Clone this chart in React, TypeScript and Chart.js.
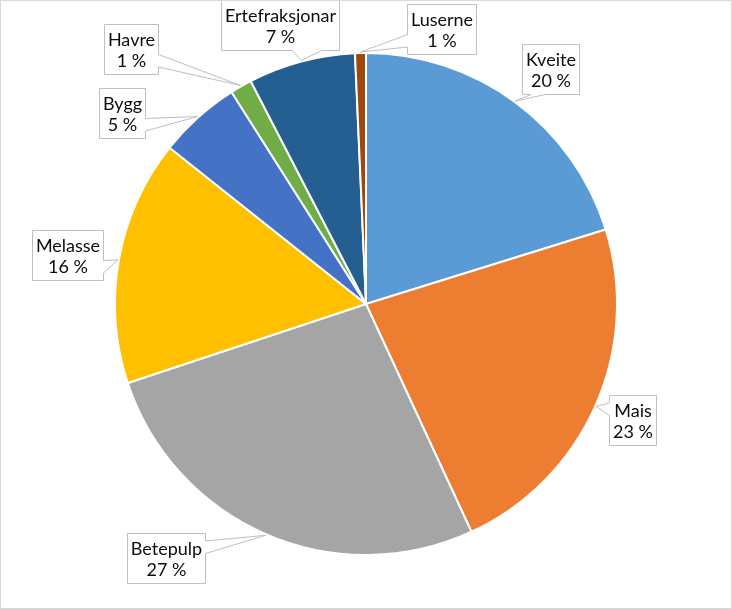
import React, { useEffect, useRef } from "react";
import { Chart, registerables } from "chart.js";

Chart.register(...registerables);

const categories = ["Kveite", "Mais", "Betepulp", "Melasse", "Bygg", "Havre", "Ertefraksjonar", "Luserne"];
const shares = [20.2, 22.9, 26.8, 15.8, 5.3, 1.4, 6.9, 0.7];
const colors = ["#5B9BD5", "#ED7D31", "#A5A5A5", "#FFC000", "#4472C4", "#70AD47", "#255E91", "#9E480E"];

// callout box placement (center x, top y) in canvas pixels
const calloutPos: [number, number][] = [
  [550, 44],
  [632, 395],
  [166, 533],
  [68, 230],
  [122, 88],
  [131, 24],
  [280, 0],
  [442, 4],
];

const FONT = "18px Lato, 'Liberation Sans', sans-serif";

const calloutPlugin = {
  id: "callouts",
  beforeDraw(chart: any) {
    const ctx = chart.ctx;
    ctx.save();
    ctx.fillStyle = "#ffffff";
    ctx.fillRect(0, 0, chart.width, chart.height);
    ctx.restore();
  },
  afterDraw(chart: any) {
    const ctx = chart.ctx;
    const meta = chart.getDatasetMeta(0);
    const values = chart.data.datasets[0].data as number[];
    const labels = chart.data.labels as string[];
    ctx.save();
    ctx.font = FONT;
    meta.data.forEach((arc: any, i: number) => {
      const mid = (arc.startAngle + arc.endAngle) / 2;
      const r = arc.outerRadius + 1;
      const tx = arc.x + Math.cos(mid) * r;
      const ty = arc.y + Math.sin(mid) * r;
      const l1 = labels[i];
      const l2 = `${Math.round(values[i])} %`;
      const w = Math.max(ctx.measureText(l1).width, ctx.measureText(l2).width) + 7;
      const h = 50;
      const [cx, top] = calloutPos[i];
      const x0 = Math.round(cx - w / 2) + 0.5;
      const y0 = top + 0.5;
      const x1 = x0 + Math.round(w);
      const y1 = y0 + h;
      const dxOut = tx < x0 ? x0 - tx : tx > x1 ? tx - x1 : 0;
      const dyOut = ty < y0 ? y0 - ty : ty > y1 ? ty - y1 : 0;
      let side: string;
      if (dyOut >= dxOut * 0.7 && dyOut > 0) side = ty > y1 ? "bottom" : "top";
      else side = tx < x0 ? "left" : "right";
      const pts: [number, number][] = [];
      const ww = x1 - x0;
      const hh = y1 - y0;
      const cyBox = (y0 + y1) / 2;
      const cxBox = (x0 + x1) / 2;
      pts.push([x0, y0]);
      if (side === "top") {
        const f = tx < cxBox ? [0.15, 0.4] : [0.6, 0.85];
        pts.push([x0 + ww * f[0], y0], [tx, ty], [x0 + ww * f[1], y0]);
      }
      pts.push([x1, y0]);
      if (side === "right") {
        const f = ty < cyBox ? [0.15, 0.4] : [0.6, 0.85];
        pts.push([x1, y0 + hh * f[0]], [tx, ty], [x1, y0 + hh * f[1]]);
      }
      pts.push([x1, y1]);
      if (side === "bottom") {
        const f = tx < cxBox ? [0.4, 0.15] : [0.85, 0.6];
        pts.push([x0 + ww * f[0], y1], [tx, ty], [x0 + ww * f[1], y1]);
      }
      pts.push([x0, y1]);
      if (side === "left") {
        const f = ty < cyBox ? [0.4, 0.15] : [0.85, 0.6];
        pts.push([x0, y0 + hh * f[0]], [tx, ty], [x0, y0 + hh * f[1]]);
      }
      ctx.beginPath();
      pts.forEach((p, k) => (k === 0 ? ctx.moveTo(p[0], p[1]) : ctx.lineTo(p[0], p[1])));
      ctx.closePath();
      ctx.fillStyle = "#ffffff";
      ctx.fill();
      ctx.strokeStyle = "#bfbfbf";
      ctx.lineWidth = 1;
      ctx.stroke();
      ctx.fillStyle = "#0d0d0d";
      ctx.textAlign = "center";
      ctx.textBaseline = "alphabetic";
      ctx.fillText(l1, cxBox, top + 22);
      ctx.fillText(l2, cxBox, top + 43);
    });
    ctx.strokeStyle = "#d9d9d9";
    ctx.lineWidth = 1;
    ctx.strokeRect(0.5, 0.5, chart.width - 1, chart.height - 1);
    ctx.restore();
  },
};

export default function App() {
  const ref = useRef<HTMLCanvasElement>(null);
  useEffect(() => {
    if (!ref.current) return;
    const chart = new Chart(ref.current, {
      type: "pie",
      data: {
        labels: categories,
        datasets: [
          {
            data: shares,
            backgroundColor: colors,
            borderColor: "#ffffff",
            borderWidth: 2,
          },
        ],
      },
      options: {
        responsive: false,
        animation: false,
        devicePixelRatio: 1,
        layout: { padding: { left: 114, right: 114, top: 52, bottom: 53 } },
        plugins: {
          legend: { display: false },
          tooltip: { enabled: false },
        },
      },
      plugins: [calloutPlugin],
    });
    return () => chart.destroy();
  }, []);
  return (
    <div style={{ position: "absolute", left: 0, top: 0, width: 732, height: 609 }}>
      <canvas ref={ref} width={732} height={609} style={{ display: "block" }} />
    </div>
  );
}
